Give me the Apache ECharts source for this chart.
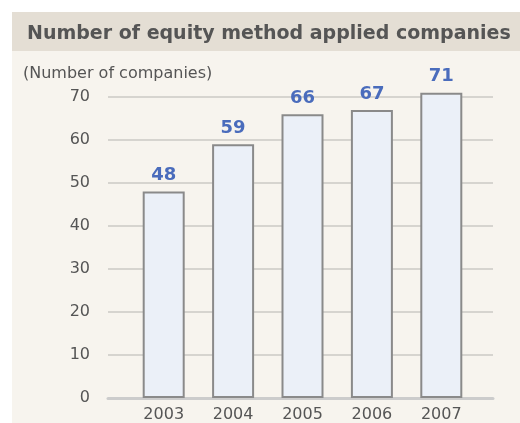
<!DOCTYPE html>
<html>
<head>
<meta charset="utf-8">
<script src="https://cdn.jsdelivr.net/npm/echarts@6/dist/echarts.min.js"></script>
<style>
  html, body { margin: 0; padding: 0; background: #ffffff; }
  #chart { width: 520px; height: 423px; }
</style>
</head>
<body>
<div id="chart"></div>
<script>
// data
var years = ['2003', '2004', '2005', '2006', '2007'];
var companies = [48, 59, 66, 67, 71];
var yTicks = [0, 10, 20, 30, 40, 50, 60, 70];

var myChart = echarts.init(document.getElementById('chart'));
var txt = '#555555';

var option = {
    backgroundColor: '#ffffff',
    animation: false,
    graphic: [
        { type: 'rect', z: -10, shape: { x: 12, y: 12, width: 508, height: 411 }, style: { fill: '#f7f4ee' } },
        { type: 'rect', z: -9, shape: { x: 12, y: 12, width: 508, height: 39 }, style: { fill: '#e4ded4' } }
    ],
    title: [{
        text: 'Number of equity method applied companies',
        left: 22, top: 20,
        textStyle: { fontFamily: 'DejaVu Sans', fontWeight: 'bold', fontSize: 19, color: txt }
    }, {
        text: '(Number of companies)',
        left: 18, top: 61,
        textStyle: { fontFamily: 'DejaVu Sans', fontWeight: 'normal', fontSize: 16, color: txt }
    }],
    grid: [
        { left: 108, right: 27, top: 97, bottom: 25 },
        { left: 129, right: 44, top: 97, bottom: 25 }
    ],
    xAxis: [{
        gridIndex: 0, type: 'category', data: [''],
        axisLine: { lineStyle: { color: '#cccccc', width: 3 } },
        axisTick: { show: false }, axisLabel: { show: false }
    }, {
        gridIndex: 1, type: 'category', data: years,
        axisLine: { show: false }, axisTick: { show: false },
        axisLabel: { margin: 9, color: txt, fontSize: 16, fontFamily: 'DejaVu Sans' }
    }],
    yAxis: [{
        gridIndex: 0, type: 'value', min: 0, max: 70, interval: 10,
        axisLine: { show: false }, axisTick: { show: false },
        axisLabel: { margin: 18, color: txt, fontSize: 16, fontFamily: 'DejaVu Sans',
            formatter: function (v) { return yTicks.indexOf(v) >= 0 ? v : ''; } },
        splitLine: { lineStyle: { color: '#d6d4cf', width: 2 } }
    }, {
        gridIndex: 1, type: 'value', min: 0, max: 70, show: false
    }],
    series: [{
        name: 'companies',
        type: 'bar',
        xAxisIndex: 1, yAxisIndex: 1,
        clip: false,
        barWidth: 42,
        data: companies,
        itemStyle: { color: '#ebf0f8', borderColor: '#8a8a8a', borderWidth: 2 },
        label: {
            show: true, position: 'top', distance: 7,
            color: '#4a6cbc', fontWeight: 'bold', fontSize: 18, fontFamily: 'DejaVu Sans'
        }
    }]
};
myChart.setOption(option);
</script>
</body>
</html>
